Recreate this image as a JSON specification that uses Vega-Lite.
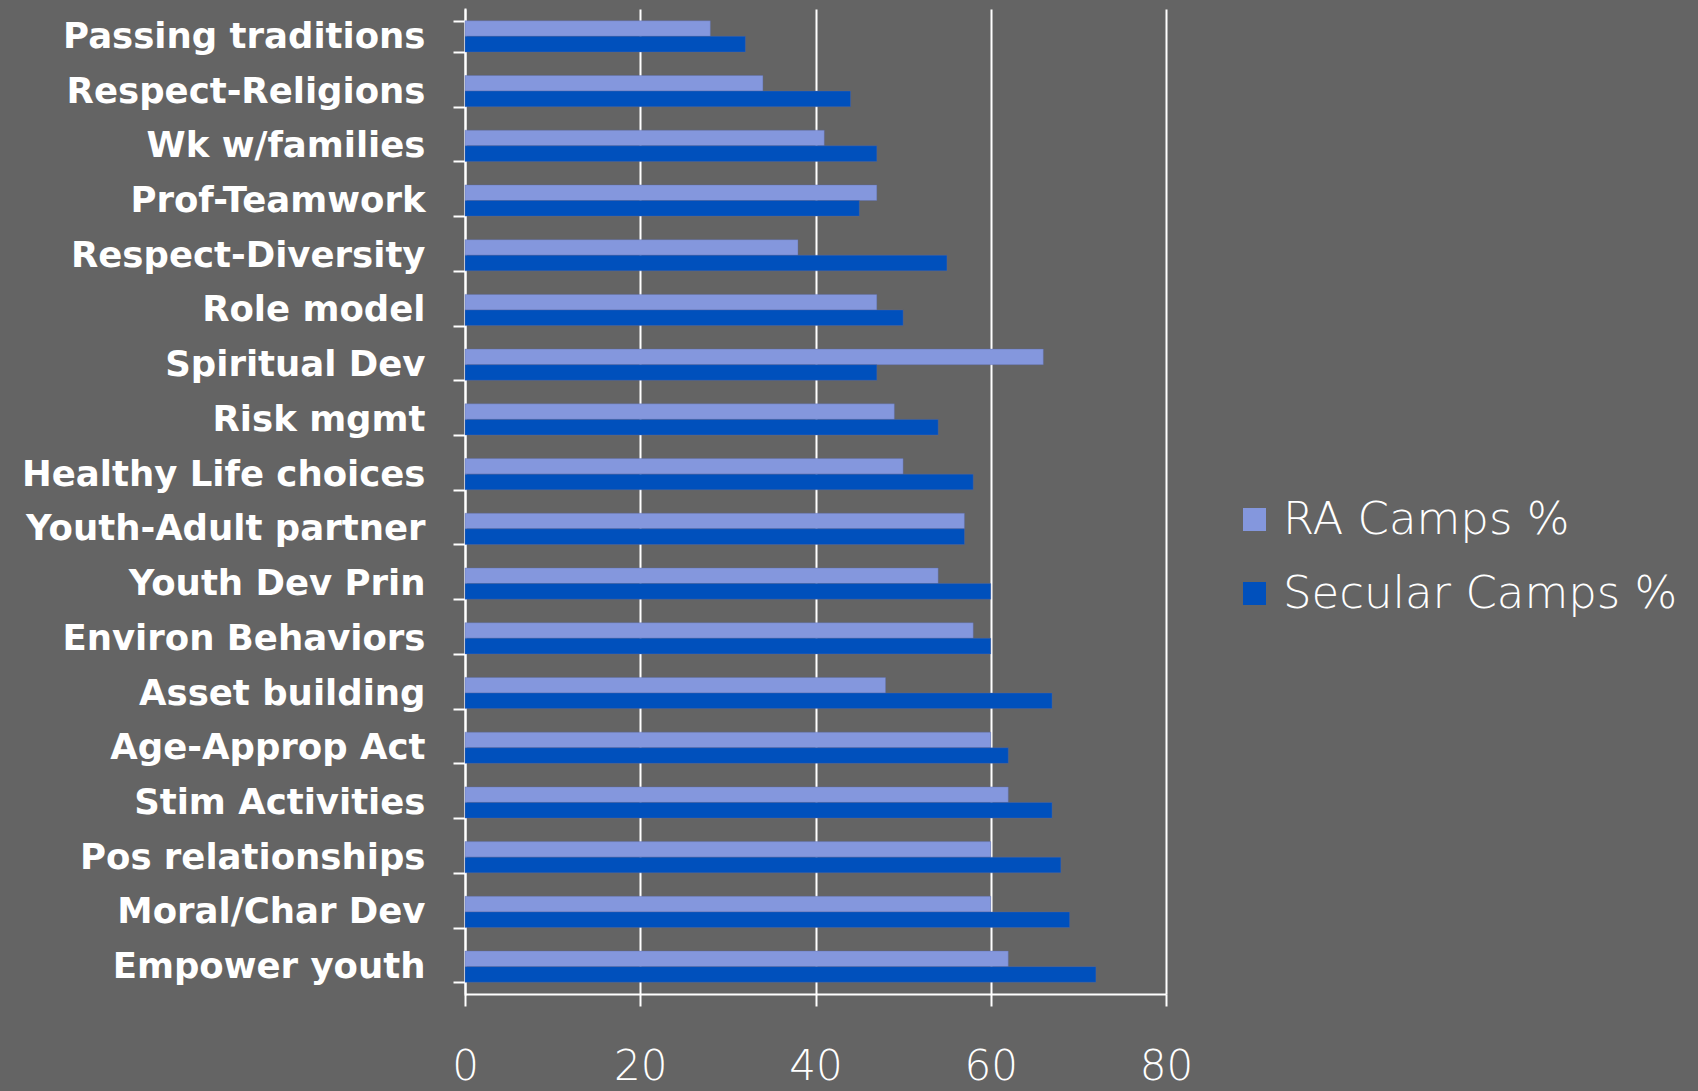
{
  "$schema": "https://vega.github.io/schema/vega-lite/v6.json",
  "width": 701,
  "height": 985,
  "autosize": {"type": "none"},
  "padding": {"left": 465, "top": 9, "right": 532, "bottom": 97},
  "background": "#646464",
  "data": {
    "values": [
      {"skill": "Passing traditions", "group": "RA Camps %", "value": 28},
      {"skill": "Passing traditions", "group": "Secular Camps %", "value": 32},
      {"skill": "Respect-Religions", "group": "RA Camps %", "value": 34},
      {"skill": "Respect-Religions", "group": "Secular Camps %", "value": 44},
      {"skill": "Wk w/families", "group": "RA Camps %", "value": 41},
      {"skill": "Wk w/families", "group": "Secular Camps %", "value": 47},
      {"skill": "Prof-Teamwork", "group": "RA Camps %", "value": 47},
      {"skill": "Prof-Teamwork", "group": "Secular Camps %", "value": 45},
      {"skill": "Respect-Diversity", "group": "RA Camps %", "value": 38},
      {"skill": "Respect-Diversity", "group": "Secular Camps %", "value": 55},
      {"skill": "Role model", "group": "RA Camps %", "value": 47},
      {"skill": "Role model", "group": "Secular Camps %", "value": 50},
      {"skill": "Spiritual Dev", "group": "RA Camps %", "value": 66},
      {"skill": "Spiritual Dev", "group": "Secular Camps %", "value": 47},
      {"skill": "Risk mgmt", "group": "RA Camps %", "value": 49},
      {"skill": "Risk mgmt", "group": "Secular Camps %", "value": 54},
      {"skill": "Healthy Life choices", "group": "RA Camps %", "value": 50},
      {"skill": "Healthy Life choices", "group": "Secular Camps %", "value": 58},
      {"skill": "Youth-Adult partner", "group": "RA Camps %", "value": 57},
      {"skill": "Youth-Adult partner", "group": "Secular Camps %", "value": 57},
      {"skill": "Youth Dev Prin", "group": "RA Camps %", "value": 54},
      {"skill": "Youth Dev Prin", "group": "Secular Camps %", "value": 60},
      {"skill": "Environ Behaviors", "group": "RA Camps %", "value": 58},
      {"skill": "Environ Behaviors", "group": "Secular Camps %", "value": 60},
      {"skill": "Asset building", "group": "RA Camps %", "value": 48},
      {"skill": "Asset building", "group": "Secular Camps %", "value": 67},
      {"skill": "Age-Approp Act", "group": "RA Camps %", "value": 60},
      {"skill": "Age-Approp Act", "group": "Secular Camps %", "value": 62},
      {"skill": "Stim Activities", "group": "RA Camps %", "value": 62},
      {"skill": "Stim Activities", "group": "Secular Camps %", "value": 67},
      {"skill": "Pos relationships", "group": "RA Camps %", "value": 60},
      {"skill": "Pos relationships", "group": "Secular Camps %", "value": 68},
      {"skill": "Moral/Char Dev", "group": "RA Camps %", "value": 60},
      {"skill": "Moral/Char Dev", "group": "Secular Camps %", "value": 69},
      {"skill": "Empower youth", "group": "RA Camps %", "value": 62},
      {"skill": "Empower youth", "group": "Secular Camps %", "value": 72}
    ]
  },
  "mark": {"type": "bar", "stroke": "#5a6aa8", "strokeWidth": 0.6, "strokeOpacity": 0.6},
  "encoding": {
    "y": {
      "field": "skill",
      "type": "nominal",
      "sort": ["Passing traditions", "Respect-Religions", "Wk w/families", "Prof-Teamwork", "Respect-Diversity", "Role model", "Spiritual Dev", "Risk mgmt", "Healthy Life choices", "Youth-Adult partner", "Youth Dev Prin", "Environ Behaviors", "Asset building", "Age-Approp Act", "Stim Activities", "Pos relationships", "Moral/Char Dev", "Empower youth"],
      "scale": {"paddingInner": 0.43, "paddingOuter": 0.215},
      "axis": {
        "title": null,
        "tickBand": "extent",
        "domainColor": "#ffffff",
        "domainWidth": 2,
        "tickColor": "#ffffff",
        "tickWidth": 2,
        "tickSize": 12,
        "labelPadding": 28,
        "labelFont": "DejaVu Sans",
        "labelFontWeight": "bold",
        "labelFontSize": 35.5,
        "labelColor": "#ffffff",
        "labelLimit": 0,
        "grid": false
      }
    },
    "yOffset": {"field": "group", "type": "nominal", "sort": ["RA Camps %", "Secular Camps %"]},
    "x": {
      "field": "value",
      "type": "quantitative",
      "scale": {"domain": [0, 80], "nice": false},
      "axis": {
        "title": null,
        "values": [0, 20, 40, 60, 80],
        "domainColor": "#ffffff",
        "domainWidth": 2,
        "tickColor": "#ffffff",
        "tickWidth": 2,
        "tickSize": 12,
        "grid": true,
        "gridColor": "#ffffff",
        "gridWidth": 2,
        "gridOpacity": 1,
        "labelPadding": 40,
        "labelFont": "DejaVu Sans",
        "labelFontWeight": 200,
        "labelFontSize": 42,
        "labelColor": "#ffffff",
        "labelFlush": false
      }
    },
    "color": {
      "field": "group",
      "type": "nominal",
      "scale": {"domain": ["RA Camps %", "Secular Camps %"], "range": ["#8497DD", "#0050BC"]},
      "legend": {
        "title": null,
        "orient": "none",
        "legendX": 767,
        "legendY": 488,
        "symbolType": "square",
        "symbolSize": 530,
        "symbolStrokeWidth": 0,
        "labelFont": "DejaVu Sans",
        "labelFontWeight": 200,
        "labelFontSize": 45,
        "labelColor": "#ffffff",
        "labelOffset": 6,
        "rowPadding": 28,
        "labelLimit": 0
      }
    }
  },
  "config": {
    "view": {"stroke": null},
    "axisY": {"domainCap": "square"}
  }
}
